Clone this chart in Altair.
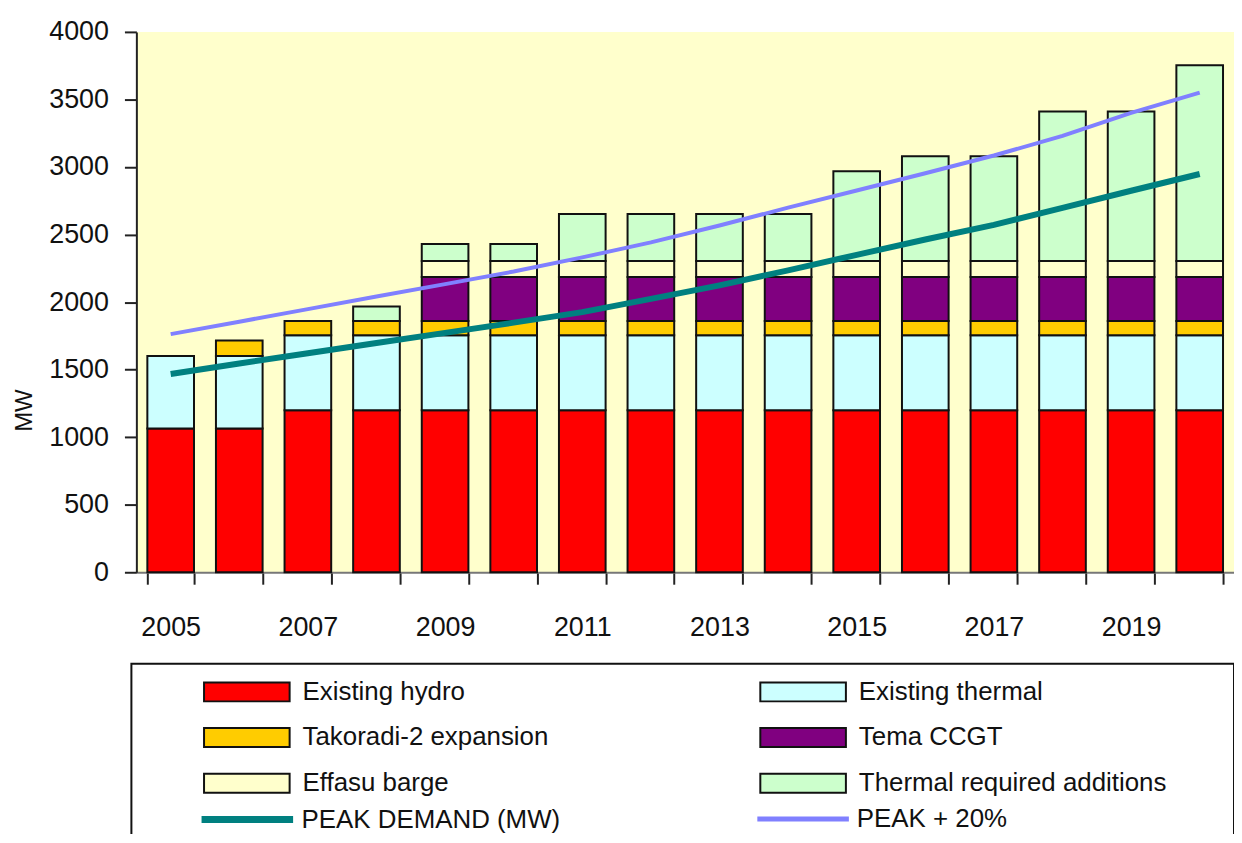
import altair as alt
import pandas as pd

years = [str(y) for y in range(2005, 2021)]

sources = [
    "Existing hydro",
    "Existing thermal",
    "Takoradi-2 expansion",
    "Tema CCGT",
    "Effasu barge",
    "Thermal required additions",
]
source_colors = ["#FF0000", "#CCFFFF", "#FFCC00", "#800080", "#FFFFCC", "#CCFFCC"]
# legend reading order (column by column, as in the reference's two-column box)
legend_order = [0, 2, 4, 1, 3, 5]

hydro = [1065, 1065] + [1200] * 14
thermal = [535, 535] + [555] * 14
takoradi = [0, 115] + [105] * 14
tema = [0, 0, 0, 0] + [325] * 12
effasu = [0, 0, 0, 0] + [120] * 12
additions = [0, 0, 0, 108, 125, 125, 347, 347, 347, 347, 663, 775, 775, 1106, 1106, 1448]

peak_demand = [1468, 1545, 1621, 1697, 1772, 1848, 1926, 2024, 2124, 2235,
               2350, 2463, 2572, 2698, 2824, 2948]
peak_plus20 = [1763, 1855, 1948, 2041, 2133, 2226, 2331, 2442, 2567, 2699,
               2826, 2954, 3085, 3230, 3400, 3551]

series = [hydro, thermal, takoradi, tema, effasu, additions]
rows = []
for k, (name, vals) in enumerate(zip(sources, series)):
    for y, v in zip(years, vals):
        rows.append({"Year": y, "Source": name, "MW": v, "order": k})
bars_df = pd.DataFrame(rows)

peak_df = pd.DataFrame({"Year": years, "MW": peak_demand, "Series": "PEAK DEMAND (MW)"})
p20_df = pd.DataFrame({"Year": years, "MW": peak_plus20, "Series": "PEAK + 20%"})

FONT = "Liberation Sans"

x_scale = alt.Scale(domain=years, paddingInner=0.32, paddingOuter=0.16)
y_scale = alt.Scale(domain=[0, 4000], nice=False)

x_enc = alt.X(
    "Year:O",
    scale=x_scale,
    axis=alt.Axis(
        title=None,
        labelAngle=0,
        labelExpr="toNumber(datum.value) % 2 == 1 ? datum.label : ''",
        tickBand="extent",
        ticks=True,
        tickSize=12,
        tickWidth=2,
        tickColor="#222222",
        domainColor="#777777",
        domainWidth=2,
        labelPadding=31,
        labelFontSize=27,
        labelFont=FONT,
        labelColor="#111111",
        grid=False,
    ),
)

bars = (
    alt.Chart(bars_df)
    .transform_filter("datum.MW > 0")
    .mark_bar(stroke="#111111", strokeWidth=2)
    .encode(
        x=x_enc,
        y=alt.Y(
            "MW:Q",
            stack="zero",
            scale=y_scale,
            axis=alt.Axis(
                title="MW",
                format="d",
                values=list(range(0, 4001, 500)),
                tickSize=12,
                tickWidth=2,
                tickColor="#222222",
                domainColor="#222222",
                domainWidth=2,
                labelPadding=16,
                labelFontSize=27,
                labelFont=FONT,
                labelColor="#111111",
                titleFont=FONT,
                titleFontSize=24,
                titleFontWeight="normal",
                titleColor="#111111",
                titleX=-100,
                titleY=380,
                grid=False,
            ),
        ),
        fill=alt.Fill(
            "Source:N",
            scale=alt.Scale(
                domain=[sources[i] for i in legend_order],
                range=[source_colors[i] for i in legend_order],
            ),
            legend=alt.Legend(
                title=None,
                orient="none",
                legendX=98,
                legendY=650,
                columns=2,
                columnPadding=208,
                rowPadding=18,
                padding=0,
                symbolType="M-4.3,-0.95H4.3V0.95H-4.3Z",
                symbolSize=400,
                symbolStrokeColor="#111111",
                symbolStrokeWidth=2,
                labelOffset=43,
                labelFontSize=26,
                labelFont=FONT,
                labelColor="#111111",
                labelLimit=500,
            ),
        ),
        order=alt.Order("order:Q"),
    )
)

line_peak = (
    alt.Chart(peak_df)
    .mark_line(strokeWidth=6)
    .encode(
        x=alt.X("Year:O", scale=x_scale),
        y=alt.Y("MW:Q", scale=y_scale),
        stroke=alt.Stroke(
            "Series:N",
            scale=alt.Scale(domain=["PEAK DEMAND (MW)"], range=["#008080"]),
            legend=alt.Legend(
                title=None,
                orient="none",
                legendX=98,
                legendY=778,
                padding=0,
                symbolType="M-4.6,0H4.6",
                symbolSize=400,
                symbolStrokeWidth=7,
                labelOffset=41,
                labelFontSize=26,
                labelFont=FONT,
                labelColor="#111111",
                labelLimit=500,
            ),
        ),
    )
)

line_p20 = (
    alt.Chart(p20_df)
    .mark_line(strokeWidth=4)
    .encode(
        x=alt.X("Year:O", scale=x_scale),
        y=alt.Y("MW:Q", scale=y_scale),
        stroke=alt.Stroke(
            "Series:N",
            scale=alt.Scale(domain=["PEAK + 20%"], range=["#8080FF"]),
            legend=alt.Legend(
                title=None,
                orient="none",
                legendX=657,
                legendY=778,
                padding=0,
                symbolType="M-4.6,0H4.6",
                symbolSize=400,
                symbolStrokeWidth=5,
                labelOffset=41,
                labelFontSize=26,
                labelFont=FONT,
                labelColor="#111111",
                labelLimit=500,
            ),
        ),
    )
)

legend_box = (
    alt.Chart(alt.Data(values=[{}]))
    .mark_rect(fillOpacity=0, stroke="#111111", strokeWidth=2)
    .encode(
        x=alt.value(-5),
        x2=alt.value(1103),
        y=alt.value(635),
        y2=alt.value(920),
    )
)

chart = (
    alt.layer(bars, line_peak, line_p20, legend_box)
    .resolve_scale(stroke="independent")
    .properties(
        width=1103,
        height=543,
        padding={"left": 129, "top": 22, "right": 0, "bottom": 261},
        autosize=alt.AutoSizeParams(type="none"),
        background="white",
    )
    .configure_view(fill="#FFFFCC", stroke=None)
)

chart.save("out.html", embed_options={"renderer": "svg", "actions": False})
